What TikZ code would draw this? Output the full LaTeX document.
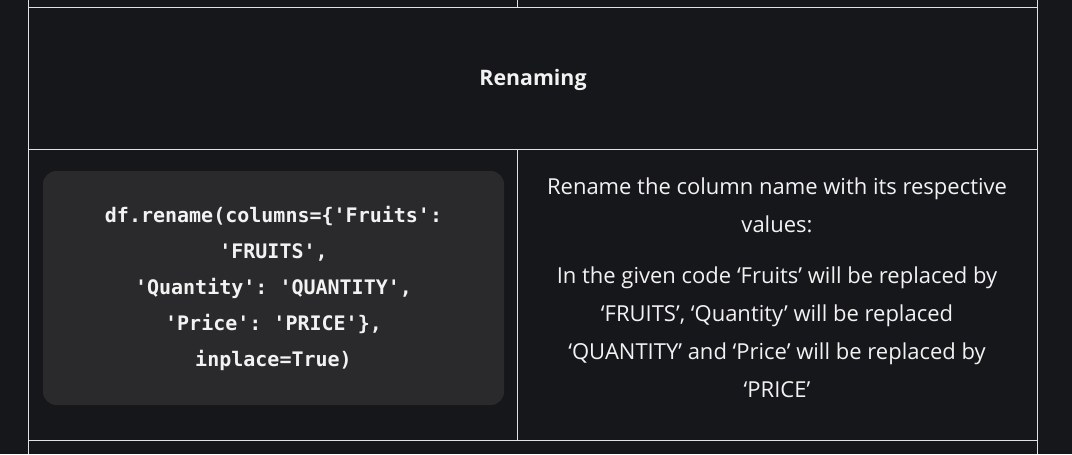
\documentclass[tikz,border=0pt]{standalone}
\usepackage{fontspec}
\setmainfont{Open Sans}
\setmonofont{DejaVu Sans Mono}
\usepackage{tikz}

\definecolor{pagebg}{HTML}{16171B}
\definecolor{codebg}{HTML}{2A2A2D}
\definecolor{rule}{HTML}{E2E2E2}
\definecolor{ink}{HTML}{F2F2F2}

\begin{document}
\begin{tikzpicture}[x=.75pt,y=-.75pt,
	gridline/.style={rule,line width=.9pt},
	celltext/.style={ink,align=center,font=\fontsize{16.5}{28.5}\selectfont},
	codetext/.style={ink,align=center,font=\fontsize{15}{27}\selectfont\ttfamily\bfseries}]
	% page
	\fill[pagebg] (0,0) rectangle (1072,454);
	\useasboundingbox (0,0) rectangle (1072,454);
	
	% table lines
	\foreach \y in {7.3,149.3,440.3}{
		\draw[gridline] (28.5,\y) -- (1037.3,\y);
	}
	\foreach \x in {28.5,1037.3}{
		\draw[gridline] (\x,0) -- (\x,454);
	}
	\draw[gridline] (517.3,0) -- (517.3,7.3);
	\draw[gridline] (517.3,149.3) -- (517.3,440.3);
	
	% header
	\node[celltext,font=\fontsize{16}{18}\selectfont\bfseries] (head) at (533,80) {Renaming};
	
	% code box
	\fill[codebg,rounded corners=10pt] (43,171) rectangle (504,405);
	\node[codetext] (code) at (273.5,288) {df.rename(columns=\{'Fruits':\\'FRUITS',\\'Quantity': 'QUANTITY',\\'Price': 'PRICE'\},\\inplace=True)};
	
	% description
	\node[celltext] (desc) at (777,205) {Rename the column name with its respective\\values:};
	\node[celltext] (expl) at (777,332) {In the given code ‘Fruits’ will be replaced by\\‘FRUITS’, ‘Quantity’ will be replaced\\‘QUANTITY’ and ‘Price’ will be replaced by\\‘PRICE’};
\end{tikzpicture}
\end{document}
